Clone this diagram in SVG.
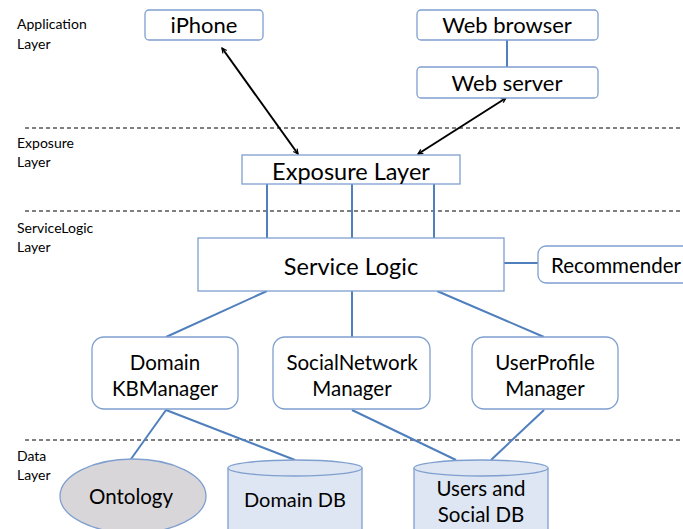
<svg xmlns="http://www.w3.org/2000/svg" width="683" height="529" viewBox="0 0 683 529">
<style>
.box{fill:#fff;stroke:#7f9fcf;stroke-width:1.3}
.db{fill:#dde6f2;stroke:#7f9fcf;stroke-width:1.3}
.onto{fill:#d9d6da;stroke:#7f9fcf;stroke-width:1.3}
.t{font-family:Lato,"Open Sans",sans-serif;font-size:20.5px;fill:#000;text-anchor:middle}
.tl{font-size:22px}
.tb{font-size:23.5px}
.lab{font-family:Lato,"Open Sans",sans-serif;font-size:14px;fill:#000}
.dash{stroke:#000;stroke-width:1;stroke-dasharray:4 3;fill:none}
.blue{stroke:#4f7fbd;stroke-width:2;fill:none}
.arr{stroke:#000;stroke-width:2;fill:none;marker-start:url(#ah);marker-end:url(#ah)}
</style>
<defs>
<marker id="ah" viewBox="0 0 10 10" refX="9" refY="5" markerWidth="6" markerHeight="6" orient="auto-start-reverse" markerUnits="userSpaceOnUse" overflow="visible">
<path d="M1,1 L9,5 L1,9" fill="none" stroke="#000" stroke-width="2"/>
</marker>
</defs>
<g id="layer-labels">
<text class="lab" x="17" y="29">Application</text>
<text class="lab" x="17" y="49">Layer</text>
<text class="lab" x="17" y="148">Exposure</text>
<text class="lab" x="17" y="167">Layer</text>
<text class="lab" x="17" y="233">ServiceLogic</text>
<text class="lab" x="17" y="252">Layer</text>
<text class="lab" x="17" y="461">Data</text>
<text class="lab" x="17" y="480">Layer</text>
</g>
<g id="separators">
<line class="dash" x1="25" y1="128" x2="683" y2="128"/>
<line class="dash" x1="25" y1="211" x2="683" y2="211"/>
<line class="dash" x1="25" y1="440" x2="683" y2="440"/>
</g>
<g id="connectors">
<line class="blue" x1="507" y1="40" x2="507" y2="67"/>
<line class="arr" x1="222" y1="48" x2="298" y2="154"/>
<line class="arr" x1="506" y1="98" x2="418" y2="154"/>
<line class="blue" x1="267" y1="184" x2="267" y2="238"/>
<line class="blue" x1="352" y1="184" x2="352" y2="238"/>
<line class="blue" x1="434" y1="184" x2="434" y2="238"/>
<line class="blue" x1="504" y1="263" x2="538" y2="263"/>
<line class="blue" x1="267" y1="291" x2="166" y2="337"/>
<line class="blue" x1="352" y1="291" x2="352" y2="337"/>
<line class="blue" x1="437" y1="291" x2="544" y2="337"/>
<line class="blue" x1="166" y1="410" x2="131" y2="459"/>
<line class="blue" x1="166" y1="410" x2="295" y2="460"/>
<line class="blue" x1="352" y1="410" x2="456" y2="460"/>
<line class="blue" x1="544" y1="410" x2="491" y2="460"/>
</g>
<g id="iphone">
<rect class="box" x="145" y="10" width="118" height="30" rx="4"/>
<text class="t tl" x="204" y="33">iPhone</text>
</g>
<g id="web-browser">
<rect class="box" x="417" y="10" width="181" height="30" rx="4"/>
<text class="t tl" x="507" y="33">Web browser</text>
</g>
<g id="web-server">
<rect class="box" x="417" y="67" width="181" height="31" rx="4"/>
<text class="t tl" x="507" y="91">Web server</text>
</g>
<g id="exposure-layer">
<rect class="box" x="242" y="155" width="218" height="29"/>
<text class="t tb" x="351" y="180">Exposure Layer</text>
</g>
<g id="service-logic">
<rect class="box" x="198" y="238" width="306" height="53"/>
<text class="t tb" x="351" y="275">Service Logic</text>
</g>
<g id="recommender">
<rect class="box" x="538" y="246" width="160" height="37" rx="8"/>
<text class="t" x="551" y="273" style="text-anchor:start">Recommender</text>
</g>
<g id="domain-kbmanager">
<rect class="box" x="92" y="337" width="146" height="72" rx="12"/>
<text class="t" x="165" y="370">Domain</text>
<text class="t" x="165" y="396">KBManager</text>
</g>
<g id="socialnetwork-manager">
<rect class="box" x="273" y="337" width="157" height="72" rx="12"/>
<text class="t" x="352" y="370">SocialNetwork</text>
<text class="t" x="352" y="396">Manager</text>
</g>
<g id="userprofile-manager">
<rect class="box" x="472" y="337" width="146" height="72" rx="12"/>
<text class="t" x="545" y="370">UserProfile</text>
<text class="t" x="545" y="396">Manager</text>
</g>
<g id="ontology">
<ellipse class="onto" cx="133" cy="496" rx="73" ry="37"/>
<text class="t" x="131" y="504">Ontology</text>
</g>
<g id="domain-db">
<path class="db" d="M228,468 L228,530 L362,530 L362,468"/>
<ellipse class="db" cx="295" cy="468" rx="67" ry="8"/>
<text class="t" x="295" y="507" style="font-size:20px">Domain DB</text>
</g>
<g id="users-social-db">
<path class="db" d="M414,468 L414,530 L548,530 L548,468"/>
<ellipse class="db" cx="481" cy="468" rx="67" ry="8"/>
<text class="t" x="481" y="496">Users and</text>
<text class="t" x="481" y="522">Social DB</text>
</g>
</svg>
